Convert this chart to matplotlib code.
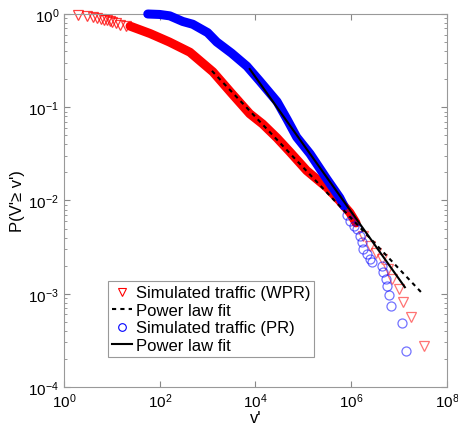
import numpy as np
import matplotlib
matplotlib.use('Agg')
from matplotlib import pyplot as plt
from matplotlib.lines import Line2D

plt.rcParams['font.family'] = ['Liberation Sans', 'DejaVu Sans']
plt.rcParams['mathtext.fontset'] = 'custom'
plt.rcParams['mathtext.rm'] = 'Liberation Sans'
plt.rcParams['mathtext.it'] = 'Liberation Sans:italic'

# simulated traffic (WPR)
wpr_head_v = [2, 3, 4, 5, 6, 7, 8, 9, 10, 12, 15, 20]
wpr_head_p = [0.98, 0.95, 0.93, 0.91, 0.89, 0.87, 0.86, 0.84, 0.83, 0.80, 0.77, 0.74]
# dense part (log10 v, log10 P)
wpr_band_lv = [1.38, 1.80, 2.20, 2.63, 3.11, 3.50, 3.88, 4.15, 4.45, 4.72, 5.07, 5.49, 5.75, 5.97, 6.10]
wpr_band_lp = [-0.13, -0.21, -0.30, -0.41, -0.62, -0.85, -1.07, -1.18, -1.33, -1.48, -1.68, -1.86, -2.00, -2.13, -2.24]
wpr_tail_lv = [6.24, 6.39, 6.52, 6.64, 6.76, 6.86, 6.99, 7.08, 7.24, 7.52]
wpr_tail_lp = [-2.38, -2.49, -2.56, -2.63, -2.73, -2.84, -2.95, -3.09, -3.25, -3.56]

# simulated traffic (PR)
pr_band_lv = [1.75, 2.00, 2.21, 2.48, 2.69, 3.00, 3.19, 3.50, 3.82, 4.09, 4.45, 4.66, 4.86, 5.14, 5.49, 5.76, 5.85]
pr_band_lp = [0.0, -0.005, -0.02, -0.08, -0.11, -0.20, -0.30, -0.42, -0.56, -0.72, -0.94, -1.13, -1.32, -1.50, -1.77, -1.97, -2.06]
pr_tail_lv = [5.91, 5.98, 6.05, 6.12, 6.18, 6.22, 6.24, 6.33, 6.39, 6.43, 6.64, 6.66, 6.72, 6.74, 6.78, 6.83, 7.06, 7.14]
pr_tail_lp = [-2.16, -2.22, -2.27, -2.31, -2.38, -2.45, -2.52, -2.57, -2.63, -2.66, -2.70, -2.77, -2.84, -2.92, -3.01, -3.13, -3.31, -3.61]

# power law fits (end points, log10)
fit_wpr_lv = [3.09, 7.49]
fit_wpr_lp = [-0.61, -3.00]
fit_pr_lv = [3.88, 7.12]
fit_pr_lp = [-0.59, -2.93]

red = '#ff0000'
blue = '#0000ff'

fig = plt.figure(figsize=(4.58, 4.31), dpi=100)
ax = fig.add_axes([0.1397, 0.0998, 0.8363, 0.8654])

# red series
ax.plot(10**np.array(wpr_band_lv), 10**np.array(wpr_band_lp), color=red, lw=6.5,
        solid_capstyle='round', solid_joinstyle='round', zorder=2, clip_on=False)
ax.plot(wpr_head_v, wpr_head_p, 'v', mfc='none', mec=red, ms=6.5, mew=0.9, alpha=0.75,
        zorder=2, clip_on=False)
ax.plot(10**np.array(wpr_tail_lv), 10**np.array(wpr_tail_lp), 'v', mfc='none', mec=red,
        ms=6.5, mew=0.9, alpha=0.55, zorder=2)

# blue series
ax.plot(10**np.array(pr_band_lv), 10**np.array(pr_band_lp), color=blue, lw=6.5,
        solid_capstyle='round', solid_joinstyle='round', zorder=3, clip_on=False)
ax.plot(10**np.array(pr_tail_lv), 10**np.array(pr_tail_lp), 'o', mfc='none', mec=blue,
        ms=6.5, mew=0.9, alpha=0.55, zorder=3)

# fits
ax.plot(10**np.array(fit_wpr_lv), 10**np.array(fit_wpr_lp), color='black', lw=1.5,
        dashes=(2, 2), zorder=4)
ax.plot(10**np.array(fit_pr_lv), 10**np.array(fit_pr_lp), color='black', lw=1.5, zorder=4)

ax.set_xscale('log')
ax.set_yscale('log')
ax.set_xlim(1, 1e8)
ax.set_ylim(1e-4, 1)
ax.set_xticks([1, 1e2, 1e4, 1e6, 1e8])
ax.set_xticklabels([r'$10^0$', r'$10^2$', r'$10^4$', r'$10^6$', r'$10^8$'])
ax.set_yticks([1e-4, 1e-3, 1e-2, 1e-1, 1])
ax.set_yticklabels([r'$10^{-4}$', r'$10^{-3}$', r'$10^{-2}$', r'$10^{-1}$', r'$10^0$'])
ax.xaxis.set_minor_locator(matplotlib.ticker.NullLocator())
ax.tick_params(which='both', direction='in', top=True, right=True, color='#888888', labelsize=11)
ax.tick_params(which='major', length=4)
ax.tick_params(which='minor', length=2.5)
for s in ax.spines.values():
    s.set_color('#999999')
    s.set_linewidth(0.8)

ax.set_xlabel("v'", fontsize=12, labelpad=0)
ax.set_ylabel("P(V'\u2265 v')", fontsize=12, labelpad=2)

handles = [
    Line2D([], [], ls='none', marker='v', mfc='none', mec=red, ms=5.5, mew=0.8),
    Line2D([], [], color='black', lw=1.5, dashes=(2, 2)),
    Line2D([], [], ls='none', marker='o', mfc='none', mec=blue, ms=5.5, mew=0.8),
    Line2D([], [], color='black', lw=1.5),
]
labels = ['Simulated traffic (WPR)', 'Power law fit', 'Simulated traffic (PR)', 'Power law fit']
leg = ax.legend(handles, labels, loc='lower left', bbox_to_anchor=(0.115, 0.08), fontsize=12,
                handlelength=1.2, handletextpad=0.2, labelspacing=0.15, borderpad=0.25,
                borderaxespad=0, fancybox=False, framealpha=1)
leg.get_frame().set_edgecolor('#999999')
leg.get_frame().set_linewidth(0.8)

plt.savefig('out.png', dpi=100)
